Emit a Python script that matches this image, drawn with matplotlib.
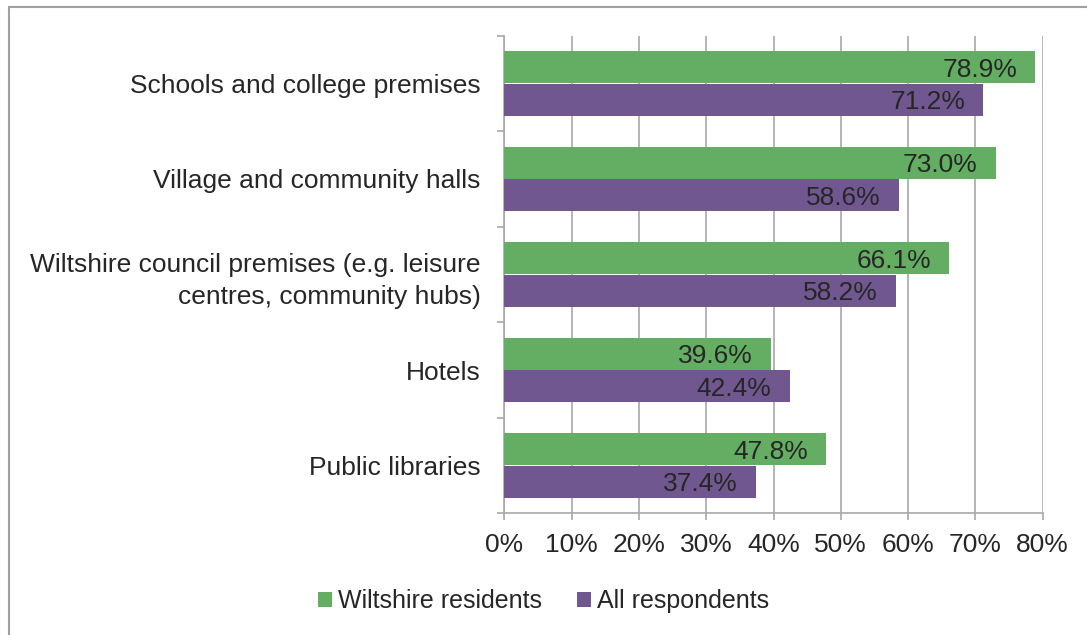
import matplotlib.pyplot as plt
import numpy as np
from matplotlib.patches import Rectangle

plt.rcParams['font.family'] = ['Liberation Sans', 'DejaVu Sans']

categories = ["Schools and college premises",
              "Village and community halls",
              "Wiltshire council premises (e.g. leisure\ncentres, community hubs)",
              "Hotels",
              "Public libraries"]
wiltshire = [78.9, 73.0, 66.1, 39.6, 47.8]
all_resp = [71.2, 58.6, 58.2, 42.4, 37.4]
series_names = ["Wiltshire residents", "All respondents"]
x_ticks = [0, 10, 20, 30, 40, 50, 60, 70, 80]

green = '#63ae62'
purple = '#70578f'
grey = '#a8a8a8'
txt = '#262626'
fs = 19

fig = plt.figure(figsize=(10.87, 6.35), dpi=100)
ax = fig.add_axes([504.3 / 1087, 1 - 513.3 / 635, 538.4 / 1087, 477.6 / 635])

y = np.arange(len(categories))
h = 0.335
ax.barh(y - 0.168, wiltshire, height=h, color=green, zorder=3, label=series_names[0])
ax.barh(y + 0.168, all_resp, height=h, color=purple, zorder=3, label=series_names[1])

# value labels sit just inside the end of each bar
for vals, off in ((wiltshire, -0.168), (all_resp, 0.168)):
    for i, v in enumerate(vals):
        ax.annotate(f"{v:.1f}%", xy=(v, i + off), xytext=(-13, 0),
                    textcoords='offset points', ha='right', va='center_baseline',
                    fontsize=fs, color=txt, zorder=4)

ax.set_xlim(0, 80)
ax.set_ylim(len(categories) - 0.5, -0.5)
ax.set_xticks(x_ticks)
ax.set_xticklabels([f"{t}%" for t in x_ticks])
ax.set_yticks(y)
ax.set_yticklabels(categories, ha='right', linespacing=1.4)
ax.set_yticks(np.arange(-0.5, len(categories)), minor=True)

ax.grid(axis='x', color=grey, linewidth=1.2, zorder=0)
ax.tick_params(axis='y', which='major', length=0, pad=17, labelsize=fs, labelcolor=txt)
ax.tick_params(axis='y', which='minor', length=5, width=1.2, color=grey)
ax.tick_params(axis='x', length=5, width=1.2, color=grey, pad=9, labelsize=fs, labelcolor=txt)

for s in ('top', 'right'):
    ax.spines[s].set_visible(False)
for s in ('left', 'bottom'):
    ax.spines[s].set_color(grey)
    ax.spines[s].set_linewidth(1.2)

fig.legend(loc='center', bbox_to_anchor=(544 / 1087, 1 - 601 / 635), ncol=2,
           frameon=False, fontsize=18, labelcolor=txt, handlelength=0.55,
           handleheight=0.55, handletextpad=0.25, columnspacing=1.4)

# outer chart border, only left and top edges fall inside the image
fig.patches.append(Rectangle((9 / 1087, -0.1), 1.2, 1.1 - 7 / 635,
                             transform=fig.transFigure, fill=False,
                             edgecolor='#a0a0a0', linewidth=1.5))

fig.savefig('out.png', dpi=100)
